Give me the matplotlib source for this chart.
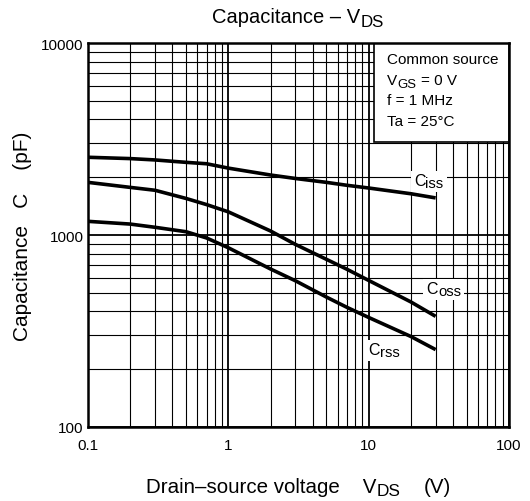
import matplotlib
matplotlib.use('Agg')
import matplotlib.pyplot as plt
from matplotlib.patches import Rectangle
from matplotlib.transforms import IdentityTransform

plt.rcParams['font.family'] = ['Liberation Sans', 'DejaVu Sans']

# valores
vds = [0.1, 0.2, 0.3, 0.5, 0.7, 1, 2, 3, 5, 7, 10, 20, 30]
ciss = [2540, 2500, 2460, 2390, 2350, 2230, 2053, 1970, 1880, 1815, 1757, 1640, 1560]
coss = [1880, 1770, 1710, 1550, 1440, 1320, 1049, 894, 747, 663, 580, 448, 377]
crss = [1178, 1140, 1097, 1040, 965, 858, 665, 578, 475, 420, 372, 296, 253]

xticks = [0.1, 1, 10, 100]
xticklabels = ['0.1', '1', '10', '100']
yticks = [100, 1000, 10000]
yticklabels = ['100', '1000', '10000']

# texto com subscrito: lista de (texto, subscrito?)
condicoes = [
    [('Common source', False)],
    [('V', False), ('GS', True), (' = 0 V', False)],
    [('f = 1 MHz', False)],
    [('Ta = 25°C', False)],
]

DPI = 100
fig = plt.figure(figsize=(5.3, 5.02), dpi=DPI)
ax = fig.add_axes([88 / 530, 74 / 502, 421 / 530, 384 / 502])
renderer = fig.canvas.get_renderer()


def escrever(x, y, partes, size, ha='left', fundo=False, zorder=5, escala=0.86):
    # x, y em pixels (linha de base); subscrito um pouco menor e mais baixo
    cx = x
    objs = []
    for texto, sub in partes:
        fs = size * escala if sub else size
        espaco = 0.278 * fs * DPI / 72
        cx += (len(texto) - len(texto.lstrip(' '))) * espaco
        dy = -0.15 * size * DPI / 72 if sub else 0
        t = fig.text(cx, y + dy, texto.strip(' '), fontsize=fs, transform=IdentityTransform(),
                     ha='left', va='baseline', zorder=zorder + 1)
        cx += t.get_window_extent(renderer).width + (0.5 if sub else 0)
        cx += (len(texto) - len(texto.rstrip(' '))) * espaco
        objs.append(t)
    desloc = (cx - x) / 2 if ha == 'center' else 0
    for t in objs:
        px, py = t.get_position()
        t.set_position((px - desloc, py))
    if fundo:
        ext = [t.get_window_extent(renderer) for t in objs]
        x0 = min(e.x0 for e in ext) - 3
        x1 = max(e.x1 for e in ext) + 3
        y0 = min(e.y0 for e in ext) - 2
        y1 = max(e.y1 for e in ext) + 2
        fig.add_artist(Rectangle((x0, y0), x1 - x0, y1 - y0, transform=IdentityTransform(),
                                 facecolor='white', edgecolor='none', zorder=zorder))
    return objs


ax.set_xscale('log')
ax.set_yscale('log')
ax.set_xlim(0.1, 100)
ax.set_ylim(100, 10000)

ax.set_axisbelow(True)
ax.grid(True, which='major', color='black', linewidth=1.3)
ax.grid(True, which='minor', color='black', linewidth=0.8)
ax.set_xticks(xticks)
ax.set_xticklabels(xticklabels)
ax.set_yticks(yticks)
ax.set_yticklabels(yticklabels)
ax.tick_params(which='both', length=0)
ax.tick_params(axis='x', pad=8, labelsize=11)
ax.tick_params(axis='y', pad=3, labelsize=11)
for s in ax.spines.values():
    s.set_linewidth(1.8)

# curvas
for serie in [ciss, coss, crss]:
    ax.plot(vds, serie, color='black', linewidth=2.6, zorder=3, solid_capstyle='butt')

# caixa de condições
ax.add_patch(Rectangle((0.679, 0.742), 0.321, 0.258, transform=ax.transAxes,
                       facecolor='white', edgecolor='black', linewidth=1.2, zorder=2))
ys = [0.948, 0.892, 0.840, 0.786]
for partes, yy in zip(condicoes, ys):
    px, py = ax.transAxes.transform((0.710, yy))
    escrever(px, py, partes, 11)

# rótulos das curvas (posição em dados: canto esquerdo, linha de base)
rotulos = [('iss', 21.0, 1821), ('oss', 25.8, 499), ('rss', 9.9, 240)]
for sub, xv, yv in rotulos:
    px, py = ax.transData.transform((xv, yv))
    escrever(px, py, [('C', False), (sub, True)], 11.5, fundo=True, escala=0.92)

# título e eixos
cx = ax.transAxes.transform((0.5, 1))[0]
escrever(cx, 502 - 23.5, [('Capacitance – V', False), ('DS', True)], 14.5, ha='center', escala=0.84)
escrever(cx, 502 - 493, [('Drain–source voltage    V', False), ('DS', True), ('    (V)', False)],
         14.8, ha='center', escala=0.84)
ax.set_ylabel('Capacitance   C    (pF)', fontsize=15, labelpad=7)

fig.savefig('out.png', dpi=DPI)
